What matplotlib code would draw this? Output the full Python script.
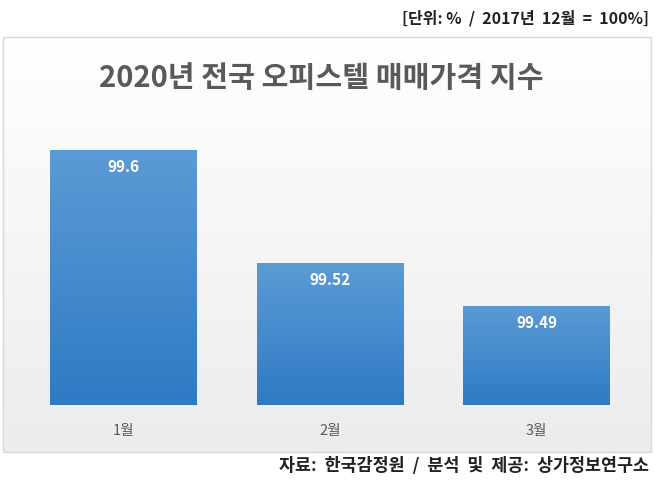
import matplotlib
matplotlib.use("Agg")
import matplotlib.pyplot as plt
import numpy as np
from matplotlib.patches import Rectangle
from matplotlib.colors import LinearSegmentedColormap

plt.rcParams['font.family'] = ['Noto Sans CJK KR', 'DejaVu Sans']

categories = ['1월', '2월', '3월']
values = [99.6, 99.52, 99.49]
labels = ['99.6', '99.52', '99.49']

W, H = 664, 483
fig = plt.figure(figsize=(W/100, H/100), dpi=100)

bg = fig.add_axes([0, 0, 1, 1], zorder=0)
bg.set_xlim(0, W); bg.set_ylim(H, 0); bg.axis('off')
grad = np.linspace(0, 1, 256).reshape(-1, 1)
bgcmap = LinearSegmentedColormap.from_list('bg', ['#ffffff', '#ececec'])
bg.imshow(grad, cmap=bgcmap, extent=[3, 651, 452, 37], aspect='auto')
bg.add_patch(Rectangle((3, 37), 648, 415, fill=False, ec='#d9d9d9', lw=1))

fig.text(0.484, (H-78)/H, '2020년 전국 오피스텔 매매가격 지수', ha='center', va='center',
         fontsize=21, fontweight='bold', color='#595959')
fig.text(0.978, (H-18)/H, '[단위: %  /  2017년  12월  =  100%]', ha='right', va='center',
         fontsize=11.5, fontweight='bold', color='#222222')
fig.text(0.978, (H-466)/H, '자료:  한국감정원  /  분석  및  제공:  상가정보연구소', ha='right', va='center',
         fontsize=12.5, fontweight='bold', color='#222222')

ax = fig.add_axes([20/W, (H-405)/H, 620/W, 305/H], zorder=1)
ax.patch.set_alpha(0)
x = np.arange(len(categories))
bars = ax.bar(x, values, width=0.71, color='none')
ymin = 99.42
barcmap = LinearSegmentedColormap.from_list('bar', ['#5b9bd5', '#2f7ac4'])
for b, lab in zip(bars, labels):
    x0, w, h = b.get_x(), b.get_width(), b.get_height()
    im = ax.imshow(grad, cmap=barcmap, extent=[x0, x0+w, ymin, h], aspect='auto', zorder=2)
    r = Rectangle((x0, ymin), w, h-ymin, transform=ax.transData)
    im.set_clip_path(r)
    ax.text(x0+w/2, h-0.012, lab, ha='center', va='center', color='white',
            fontsize=11, fontweight='bold', zorder=3)
ax.set_xlim(-0.5, 2.5); ax.set_ylim(ymin, 99.635)
for s in ax.spines.values():
    s.set_visible(False)
ax.set_yticks([])
ax.set_xticks(x)
ax.set_xticklabels(categories, fontsize=10.5, color='#595959')
ax.tick_params(axis='x', length=0, pad=14)

fig.savefig('out.png', dpi=100)
